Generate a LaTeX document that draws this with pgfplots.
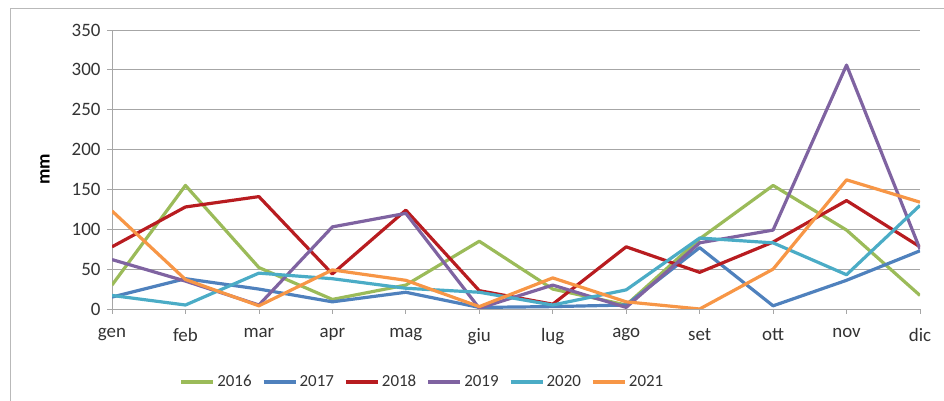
\documentclass[border=0pt]{standalone}
\usepackage{fontspec}
\setmainfont{Carlito}
\usepackage{pgfplots}
\pgfplotsset{compat=1.18}

% Excel-like palette
\definecolor{c2016}{HTML}{9BBB59}
\definecolor{c2017}{HTML}{4F81BD}
\definecolor{c2018}{HTML}{B81C20}
\definecolor{c2019}{HTML}{7F63A1}
\definecolor{c2020}{HTML}{4BACC6}
\definecolor{c2021}{HTML}{F79646}
\definecolor{gridgray}{HTML}{A6A6A6}

\begin{document}
\begin{tikzpicture}[font=\fontsize{19}{22}\selectfont]
  \path[use as bounding box] (0,0) rectangle (944bp,401bp);
  \draw[gray!55, line width=0.8bp] (10bp,0) -- (10bp,393bp) -- (944bp,393bp);

  \begin{axis}[
      at={(112bp,92bp)}, anchor=south west,
      scale only axis, width=808bp, height=279bp,
      xmin=0, xmax=11, ymin=0, ymax=350,
      xtick={0,...,11},
      xticklabels={gen,feb,mar,apr,mag,giu,lug,ago,set,ott,nov,dic},
      ytick={0,50,...,350},
      axis x line*=bottom, axis y line*=left,
      axis line style={gridgray, line width=0.8bp},
      ymajorgrids, grid style={gridgray, line width=0.8bp},
      tick align=outside, major tick length=5bp,
      tick style={gridgray, line width=0.8bp},
      /pgf/number format/assume math mode=true,
      tick label style={text=black!80},
      yticklabel style={xshift=-3bp},
      xticklabel style={yshift=-11bp},
      ylabel={\textbf{mm}},
      every axis y label/.style={at={(axis description cs:-0.083,0.5)}, rotate=90, anchor=center, text=black},
      legend columns=6,
      legend style={draw=none, at={(axis description cs:0.384,-0.26)}, anchor=center,
        font=\fontsize{17}{20}\selectfont,
        nodes={inner xsep=2bp},
        /tikz/every even column/.append style={column sep=8bp}, text=black!80},
      legend image code/.code={\draw[#1, line width=4bp] (0bp,0bp) -- (32bp,0bp);},
      every axis plot/.append style={line width=3.2bp, line join=round},
    ]
    \addplot[c2016] coordinates {(0,30) (1,155) (2,52) (3,12) (4,30) (5,85) (6,25) (7,5) (8,88) (9,155) (10,99) (11,17)};
    \addlegendentry{2016}
    \addplot[c2017] coordinates {(0,15) (1,38) (2,25) (3,9) (4,21) (5,2) (6,3) (7,5) (8,77) (9,4) (10,36) (11,73)};
    \addlegendentry{2017}
    \addplot[c2018] coordinates {(0,78) (1,128) (2,141) (3,44) (4,124) (5,23) (6,6) (7,78) (8,46) (9,84) (10,136) (11,78)};
    \addlegendentry{2018}
    \addplot[c2019] coordinates {(0,62) (1,35) (2,5) (3,103) (4,120) (5,1) (6,30) (7,2) (8,83) (9,99) (10,306) (11,75)};
    \addlegendentry{2019}
    \addplot[c2020] coordinates {(0,17) (1,5) (2,45) (3,38) (4,26) (5,21) (6,5) (7,24) (8,89) (9,83) (10,43) (11,130)};
    \addlegendentry{2020}
    \addplot[c2021] coordinates {(0,123) (1,37) (2,4) (3,49) (4,36) (5,3) (6,39) (7,9) (8,0) (9,50) (10,162) (11,134)};
    \addlegendentry{2021}
  \end{axis}
\end{tikzpicture}
\end{document}
